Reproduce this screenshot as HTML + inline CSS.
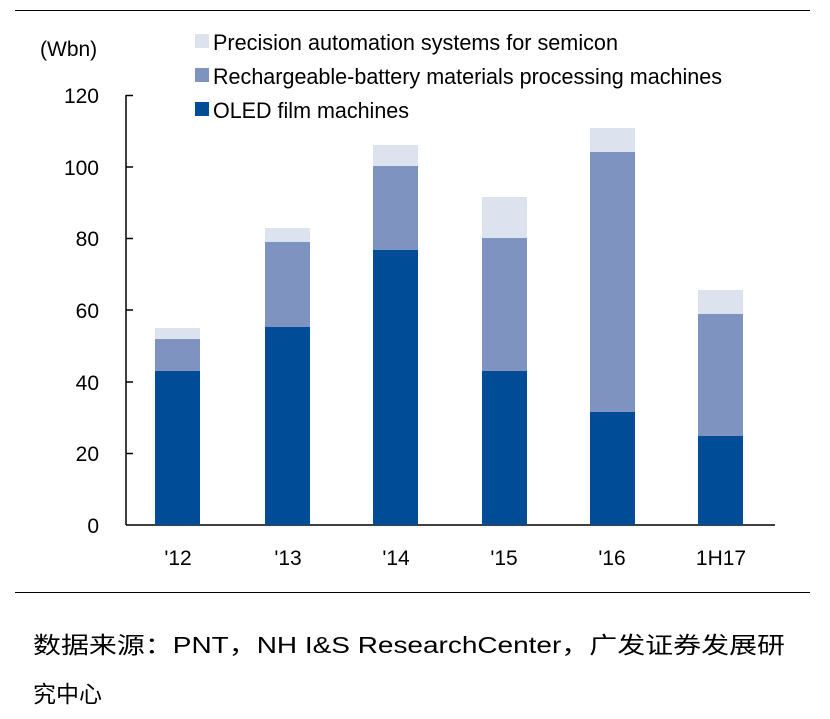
<!DOCTYPE html>
<html><head><meta charset="utf-8"><style>
body{margin:0;background:#fff}
svg{display:block}
text{font-family:"Liberation Sans","Noto Sans CJK SC",sans-serif;fill:#000}
</style></head><body>
<svg width="830" height="719" viewBox="0 0 830 719">
<line x1="15" y1="10.5" x2="810" y2="10.5" stroke="#000" stroke-width="1"/>
<line x1="15" y1="592.5" x2="810" y2="592.5" stroke="#000" stroke-width="1"/>
<text x="40" y="56" font-size="21">(Wbn)</text>
<g font-size="21" text-anchor="end">
<text x="99" y="103">120</text><text x="99" y="175">100</text><text x="99" y="246">80</text>
<text x="99" y="318">60</text><text x="99" y="390">40</text><text x="99" y="461">20</text><text x="99" y="533">0</text>
</g>
<g stroke="#000" stroke-width="1.5">
<line x1="126" y1="95" x2="126" y2="525"/>
<line x1="126" y1="525" x2="775" y2="525"/>
<line x1="126" y1="95.5" x2="133" y2="95.5"/><line x1="126" y1="167" x2="133" y2="167"/>
<line x1="126" y1="238.5" x2="133" y2="238.5"/><line x1="126" y1="310" x2="133" y2="310"/>
<line x1="126" y1="382" x2="133" y2="382"/><line x1="126" y1="453.5" x2="133" y2="453.5"/>
</g>
<!-- bars -->
<g>
<rect x="155" y="328" width="45" height="11" fill="#DCE3EE"/><rect x="155" y="339" width="45" height="32" fill="#7F93C0"/><rect x="155" y="371" width="45" height="154" fill="#004C97"/>
<rect x="265" y="228" width="45" height="14" fill="#DCE3EE"/><rect x="265" y="242" width="45" height="85" fill="#7F93C0"/><rect x="265" y="327" width="45" height="198" fill="#004C97"/>
<rect x="373" y="145" width="45" height="21" fill="#DCE3EE"/><rect x="373" y="166" width="45" height="84" fill="#7F93C0"/><rect x="373" y="250" width="45" height="275" fill="#004C97"/>
<rect x="482" y="197" width="45" height="41" fill="#DCE3EE"/><rect x="482" y="238" width="45" height="133" fill="#7F93C0"/><rect x="482" y="371" width="45" height="154" fill="#004C97"/>
<rect x="590" y="128" width="45" height="24" fill="#DCE3EE"/><rect x="590" y="152" width="45" height="260" fill="#7F93C0"/><rect x="590" y="412" width="45" height="113" fill="#004C97"/>
<rect x="698" y="290" width="45" height="24" fill="#DCE3EE"/><rect x="698" y="314" width="45" height="122" fill="#7F93C0"/><rect x="698" y="436" width="45" height="89" fill="#004C97"/>
</g>
<g font-size="21" text-anchor="middle">
<text x="178" y="565">'12</text><text x="288" y="565">'13</text><text x="396" y="565">'14</text>
<text x="504" y="565">'15</text><text x="612" y="565">'16</text><text x="721" y="565">1H17</text>
</g>
<rect x="195" y="34" width="14" height="14" fill="#DCE3EE"/>
<rect x="195" y="68" width="14" height="14" fill="#7F93C0"/>
<rect x="195" y="102" width="14" height="14" fill="#004C97"/>
<g font-size="22">
<text x="213" y="50" textLength="405" lengthAdjust="spacingAndGlyphs">Precision automation systems for semicon</text>
<text x="213" y="84" textLength="509" lengthAdjust="spacingAndGlyphs">Rechargeable-battery materials processing machines</text>
<text x="213" y="118" textLength="196" lengthAdjust="spacingAndGlyphs">OLED film machines</text>
</g>
<text x="33" y="653" font-size="23" textLength="752" lengthAdjust="spacingAndGlyphs">数据来源：PNT，NH I&amp;S ResearchCenter，广发证券发展研</text>
<text x="33" y="702" font-size="23">究中心</text>
</svg>
</body></html>
